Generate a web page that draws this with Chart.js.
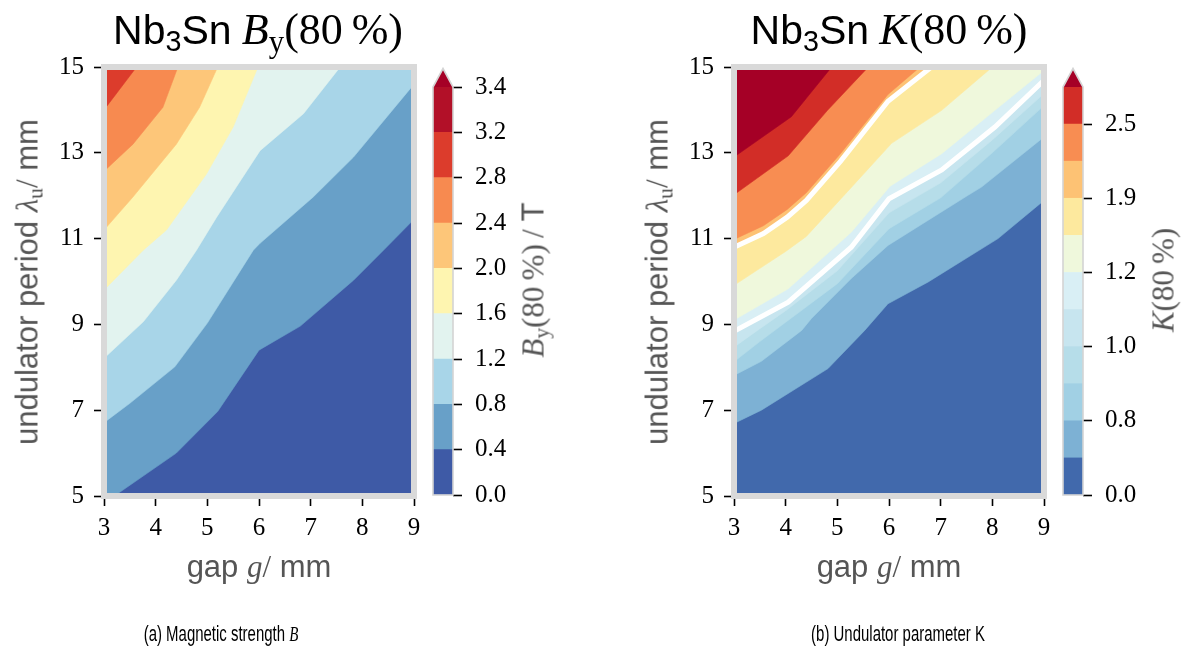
<!DOCTYPE html>
<html><head><meta charset="utf-8">
<script src="https://cdn.jsdelivr.net/npm/chart.js@4"></script>
<style>
html,body{margin:0;padding:0;background:#fff;width:1183px;height:652px;overflow:hidden;position:relative}
canvas{position:absolute;top:0}
.t{position:absolute;white-space:nowrap;line-height:1}
.sans{font-family:"Liberation Sans",Arial,sans-serif}
.ser{font-family:"Liberation Serif","DejaVu Serif",serif}
.title{font-size:41px;color:#000;transform:translateX(-50%)}
.title .ser{font-size:44px}
.lab{font-size:31px;color:#555}
.rot{transform:translate(-50%,-50%) rotate(-90deg)}
.hc{transform:translate(-50%,-50%)}
.cap{font-family:"Liberation Sans",Arial,sans-serif;font-size:22px;color:#000;transform:translate(-50%,-50%) scaleX(0.68)}
sub{font-size:0.7em;vertical-align:-0.25em;line-height:0}
</style></head><body>
<canvas id="mainA" width="430" height="600" style="left:0px"></canvas>
<canvas id="cbA" width="150" height="600" style="left:425px"></canvas>
<canvas id="mainB" width="430" height="600" style="left:630px"></canvas>
<canvas id="cbB" width="128" height="600" style="left:1055px"></canvas>

<div class="t title" style="left:258px;top:8px"><span class="sans">Nb<sub>3</sub>Sn</span> <span class="ser"><i>B</i><sub>y</sub>(80&thinsp;%)</span></div>
<div class="t title" style="left:889px;top:8px"><span class="sans">Nb<sub>3</sub>Sn</span> <span class="ser"><i>K</i>(80&thinsp;%)</span></div>

<div class="t lab rot" style="left:27px;top:282px"><span class="sans">undulator period </span><span class="ser"><i>λ</i><sub>u</sub>/</span><span class="sans"> mm</span></div>
<div class="t lab rot" style="left:657px;top:282px"><span class="sans">undulator period </span><span class="ser"><i>λ</i><sub>u</sub>/</span><span class="sans"> mm</span></div>

<div class="t lab hc" style="left:259px;top:566px"><span class="sans">gap </span><span class="ser"><i>g</i>/</span><span class="sans"> mm</span></div>
<div class="t lab hc" style="left:889px;top:566px"><span class="sans">gap </span><span class="ser"><i>g</i>/</span><span class="sans"> mm</span></div>

<div class="t lab rot" style="left:533px;top:280px"><span class="ser"><i>B</i><sub>y</sub>(80&thinsp;%)&thinsp;/</span><span class="sans"> T</span></div>
<div class="t lab rot" style="left:1163px;top:280px"><span class="ser"><i>K</i>(80&thinsp;%)</span></div>

<div class="t cap" style="left:221px;top:634px">(a) Magnetic strength <i class="ser">B</i></div>
<div class="t cap" style="left:898px;top:634px">(b) Undulator parameter K</div>

<script>
// ---------- axis ticks ----------
const gapTicks = [3, 4, 5, 6, 7, 8, 9];
const periodTicks = [5, 7, 9, 11, 13, 15];

// ---------- left: B_y(80%) contour boundaries [gap, period] ----------
const leftB00 = [[3,5],[9,5]];
const leftB04 = [[3,5],[3.2,5],[4.4,6.0],[5.2,6.97],[6.0,8.4],[6.8,8.96],[7.83,10.03],[8.41,10.73],[9,11.45]];
const leftB08 = [[3,6.71],[3.5,7.16],[4.37,8.01],[5.0,9.03],[5.89,10.73],[6.02,10.89],[7.05,11.97],[7.83,12.9],[9,14.6]];
const leftB12 = [[3,8.21],[3.76,9.06],[4.4,10.03],[4.79,10.73],[5.18,11.5],[6.02,13.05],[6.86,13.91],[7.57,15]];
const leftB16 = [[3,9.8],[3.76,10.73],[4.21,11.2],[4.98,12.5],[5.5,13.6],[5.98,15]];
const leftB20 = [[3,11.2],[3.56,11.97],[4.4,13.2],[4.85,14.06],[5.2,15]];
const leftB24 = [[3,12.57],[3.56,13.2],[4.14,14.06],[4.43,15]];
const leftB28 = [[3,14.0],[3.63,15]];
const leftColors = ['#3e5aa6','#68a0c8','#a8d5e8','#e2f3ef','#fef5b0','#fdc679','#f78a50','#dc3c2c','#b21028'];
const leftOver = '#a50026';
const leftCbTickIdx = [0,1,2,3,4,5,6,7,8,9];
const leftCbTicks = ['0.0','0.4','0.8','1.2','1.6','2.0','2.4','2.8','3.2','3.4'];

// ---------- right: K(80%) contour boundaries [gap, period] ----------
const rightB00 = [[3,5],[9,5]];
const rightB04 = [[3,6.69],[3.53,7.0],[4.82,7.97],[5.53,8.86],[5.98,9.48],[6.76,9.99],[8.11,11.0],[9,11.89]];
const rightB08 = [[3,7.81],[3.53,8.14],[4.31,8.86],[4.5,9.14],[5.27,10.07],[5.98,10.84],[7.53,12.01],[7.79,12.2],[9,13.37]];
const rightB09 = [[3,8.13],[3.5,8.6],[4,9.05],[5,9.95],[6,11.23],[7,11.95],[8,13.0],[9,14.1]];
const rightB10 = [[3,8.47],[3.5,8.9],[4,9.32],[5,10.25],[6,11.6],[7,12.3],[8,13.3],[9,14.38]];
const rightB11 = [[3,8.84],[4.05,9.52],[5.27,10.8],[6.0,11.93],[7.02,12.6],[8.05,13.6],[9,14.69]];
const rightB12 = [[3,9.1],[4.05,9.83],[5.27,11.15],[6.02,12.22],[7.02,12.98],[8.05,13.99],[9,14.92]];
const rightB155 = [[3,9.91],[4,10.7],[4.4,11.05],[5.2,12.1],[6.05,13.22],[7.02,13.99],[8.0,15]];
const rightB19 = [[3,10.8],[3.57,11.12],[4.03,11.5],[4.4,11.89],[5.06,12.8],[5.98,14.2],[6.82,15]];
const rightB22 = [[3,10.98],[3.57,11.3],[4.03,11.68],[4.4,12.07],[5.06,12.98],[5.98,14.36],[6.6,15]];
const rightB25 = [[3,12.02],[4.05,12.93],[4.81,13.99],[5.6,15]];
const rightB28 = [[3,12.9],[4.11,13.84],[4.89,15]];
const rightColors = ['#4169ac','#7db1d4','#a1d0e4','#b6dde9','#c7e5ef','#d9eff5','#eff8dc','#fde99e','#fdc274','#f88d52','#d22d27'];
const rightOver = '#a50026';
const rightCbTickIdx = [0,2,4,6,8,10];
const rightCbTicks = ['0.0','0.8','1.0','1.2','1.9','2.5'];

// ---------- helpers ----------
const SERIF = '"Liberation Serif","DejaVu Serif",serif';
function pts(a){ return a.map(p => ({x:p[0], y:p[1]})); }

const framePlugin = {
  id:'frame',
  afterDraw(chart){
    const {ctx, chartArea:a} = chart;
    ctx.save();
    ctx.strokeStyle = '#d9d9d9';
    ctx.lineWidth = 6;
    ctx.strokeRect(a.left, a.top, a.right - a.left, a.bottom - a.top);
    ctx.restore();
  }
};

function cbPlugin(over){
  return {
    id:'cbext',
    afterDraw(chart){
      const {ctx, chartArea:a} = chart;
      const cx = (a.left + a.right)/2, h = 18.5;
      ctx.save();
      ctx.beginPath();
      ctx.moveTo(a.left, a.top); ctx.lineTo(cx, a.top - h); ctx.lineTo(a.right, a.top); ctx.closePath();
      ctx.fillStyle = over; ctx.fill();
      ctx.beginPath();
      ctx.moveTo(a.left, a.bottom); ctx.lineTo(a.left, a.top); ctx.lineTo(cx, a.top - h);
      ctx.lineTo(a.right, a.top); ctx.lineTo(a.right, a.bottom); ctx.closePath();
      ctx.strokeStyle = '#d4d4d4'; ctx.lineWidth = 1.6; ctx.stroke();
      ctx.restore();
    }
  };
}

function mainChart(id, bounds, colors, whites){
  const n = bounds.length;
  const datasets = bounds.map((b,i) => ({
    data: pts(b), backgroundColor: colors[i], borderColor: colors[i], borderWidth: 0.6,
    pointRadius: 0, tension: 0, fill: {value: 15}, order: n - i
  }));
  whites.forEach(w => datasets.push({
    data: pts(w), borderColor: '#ffffff', borderWidth: 5, pointRadius: 0, tension: 0,
    fill: false, order: -1, borderCapStyle: 'butt'
  }));
  const tickFont = {family: SERIF, size: 25};
  new Chart(document.getElementById(id), {
    type: 'line',
    data: {datasets},
    options: {
      responsive: false, animation: false, devicePixelRatio: 1,
      layout: {padding: {top: 67, right: 16, left: 0, bottom: 0}},
      plugins: {legend: {display: false}, tooltip: {enabled: false}},
      scales: {
        x: {
          type: 'linear', min: 3, max: 9,
          afterBuildTicks: s => { s.ticks = gapTicks.map(v => ({value: v})); },
          ticks: {callback: (v, i) => String(gapTicks[i]), font: tickFont, color: '#000', padding: 7, maxRotation: 0, autoSkip: false},
          grid: {drawOnChartArea: false, drawTicks: true, tickLength: 10, tickColor: '#000', tickWidth: 1.6},
          border: {display: false},
          afterFit: s => { s.height = 104; }
        },
        y: {
          type: 'linear', min: 5, max: 15,
          afterBuildTicks: s => { s.ticks = periodTicks.map(v => ({value: v})); },
          ticks: {callback: (v, i) => String(periodTicks[i]), font: tickFont, color: '#000', padding: 10, autoSkip: false},
          grid: {drawOnChartArea: false, drawTicks: true, tickLength: 10, tickColor: '#000', tickWidth: 1.6},
          border: {display: false},
          afterFit: s => { s.width = 104; }
        }
      }
    },
    plugins: [framePlugin]
  });
}

function colorbar(id, colors, over, tickIdx, tickLabels, yWidth){
  new Chart(document.getElementById(id), {
    type: 'bar',
    data: {labels: [''], datasets: colors.map(c => ({data: [1], backgroundColor: c, borderWidth: 0, barPercentage: 1, categoryPercentage: 1}))},
    options: {
      responsive: false, animation: false, devicePixelRatio: 1,
      layout: {padding: {top: 87, left: 8, right: 0, bottom: 105}},
      plugins: {legend: {display: false}, tooltip: {enabled: false}},
      scales: {
        x: {stacked: true, display: false},
        y: {
          stacked: true, position: 'right', min: 0, max: colors.length,
          afterBuildTicks: s => { s.ticks = tickIdx.map(v => ({value: v})); },
          ticks: {callback: (v, i) => tickLabels[i], font: {family: SERIF, size: 25}, color: '#000', padding: 13, autoSkip: false},
          grid: {drawOnChartArea: false, drawTicks: true, tickLength: 9, tickColor: '#000', tickWidth: 1.6},
          border: {display: false},
          afterFit: s => { s.width = yWidth; }
        }
      }
    },
    plugins: [cbPlugin(over)]
  });
}

mainChart('mainA', [leftB00,leftB04,leftB08,leftB12,leftB16,leftB20,leftB24,leftB28], leftColors, []);
mainChart('mainB', [rightB00,rightB04,rightB08,rightB09,rightB10,rightB11,rightB12,rightB155,rightB19,rightB22,rightB25,rightB28],
          rightColors.concat([rightOver]), [rightB11, rightB19]);
colorbar('cbA', leftColors, leftOver, leftCbTickIdx, leftCbTicks, 122);
colorbar('cbB', rightColors, rightOver, rightCbTickIdx, rightCbTicks, 100);
</script>
</body></html>
